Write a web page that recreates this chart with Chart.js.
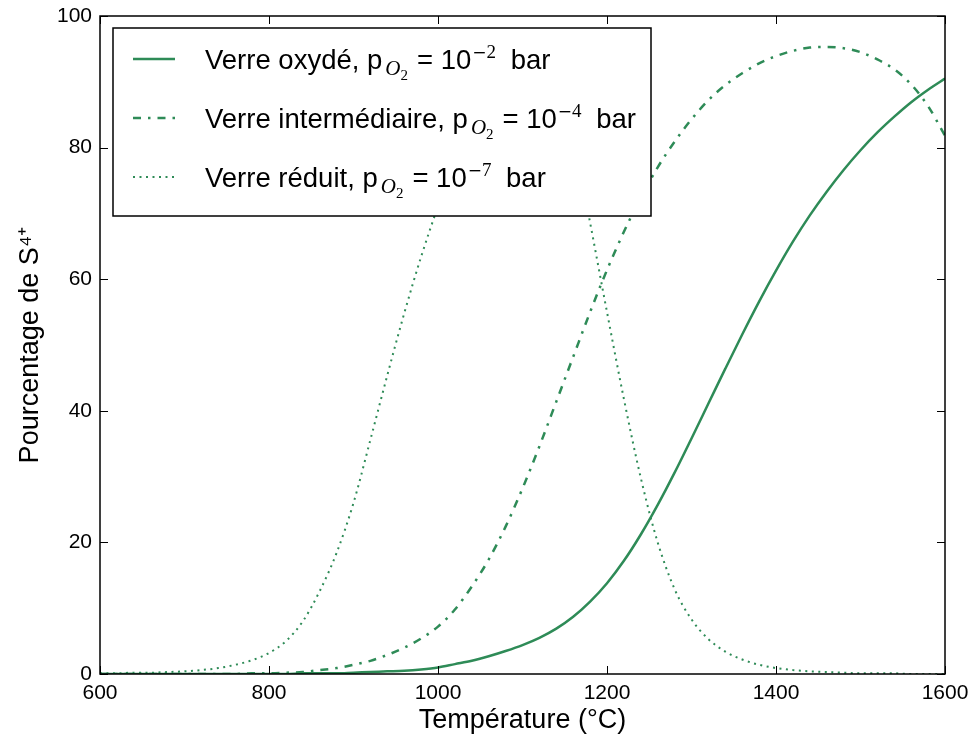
<!DOCTYPE html>
<html lang="fr">
<head>
<meta charset="utf-8">
<title>Pourcentage de S4+ en fonction de la température</title>
<script src="https://cdn.jsdelivr.net/npm/chart.js@4.4.1/dist/chart.umd.min.js"></script>
<style>
  html, body { margin: 0; padding: 0; background: #fff; }
  #wrap { width: 970px; height: 740px; }
</style>
</head>
<body>
<div id="wrap"><canvas id="chart" width="970" height="740"></canvas></div>
<script>
'use strict';

// ─────────────────────────────────────────────
// DATA
// ─────────────────────────────────────────────
const temperatures = [
  600, 620, 640, 660, 680, 700, 720, 740, 760, 780,
  800, 820, 840, 860, 880, 900, 920, 940, 960, 980,
  1000, 1020, 1040, 1060, 1080, 1100, 1120, 1140, 1160, 1180,
  1200, 1220, 1240, 1260, 1280, 1300, 1320, 1340, 1360, 1380,
  1400, 1420, 1440, 1460, 1480, 1500, 1520, 1540, 1560, 1580, 1600
];

// Verre oxydé, pO2 = 1e-2 bar
const oxyde = [
  0.0, 0.0, 0.0, 0.0, 0.0, 0.0, 0.0, 0.0, 0.0, 0.0,
  0.0, 0.0, 0.1, 0.1, 0.1, 0.2, 0.3, 0.4, 0.5, 0.7,
  1.0, 1.5, 2.0, 2.7, 3.5, 4.4, 5.5, 6.9, 8.7, 11.0,
  13.8, 17.2, 21.2, 25.7, 30.6, 35.8, 41.1, 46.4, 51.6, 56.6,
  61.3, 65.7, 69.7, 73.3, 76.6, 79.6, 82.3, 84.7, 86.9, 88.8, 90.5
];

// Verre intermédiaire, pO2 = 1e-4 bar
const intermediaire = [
  0.0, 0.0, 0.0, 0.0, 0.0, 0.0, 0.0, 0.0, 0.0, 0.1,
  0.1, 0.2, 0.3, 0.6, 0.9, 1.4, 2.0, 2.9, 4.0, 5.4,
  7.2, 9.8, 13.3, 17.4, 22.4, 28.2, 34.6, 41.4, 48.2, 55.0,
  61.4, 67.2, 72.4, 77.0, 80.9, 84.3, 87.2, 89.5, 91.3, 92.8,
  93.9, 94.7, 95.2, 95.3, 95.1, 94.5, 93.4, 91.9, 89.6, 86.3, 81.8
];

// Verre réduit, pO2 = 1e-7 bar
const reduit = [
  0.1, 0.1, 0.2, 0.2, 0.3, 0.4, 0.6, 0.9, 1.4, 2.1,
  3.2, 5.0, 8.0, 12.6, 18.4, 26.0, 35.6, 45.4, 54.8, 63.4,
  71.1, 78.4, 84.8, 90.2, 94.2, 96.3, 95.8, 91.5, 82.0, 68.6,
  55.0, 41.8, 29.8, 20.0, 12.9, 8.3, 5.3, 3.4, 2.2, 1.4,
  0.9, 0.6, 0.4, 0.3, 0.2, 0.1, 0.1, 0.1, 0.0, 0.0, 0.0
];

const seriesNames = ['Verre oxydé', 'Verre intermédiaire', 'Verre réduit'];
const pO2Exponents = ['2', '4', '7']; // drawn as 10^(−n)
const xTickValues = [600, 800, 1000, 1200, 1400, 1600];
const yTickValues = [0, 20, 40, 60, 80, 100];

const GREEN = '#2e8b57';
const SANS = '"Liberation Sans", Arial, Helvetica, sans-serif';
const SERIF = '"Liberation Serif", "Times New Roman", serif';

Chart.defaults.font.family = SANS;
Chart.defaults.color = '#000';

const toPoints = (ys) => temperatures.map((t, i) => ({ x: t, y: ys[i] }));

// ─────────────────────────────────────────────
// PLUGIN: frame with inward ticks on all four sides
// ─────────────────────────────────────────────
const framePlugin = {
  id: 'frame',
  afterDatasetsDraw(chart) {
    const { ctx, chartArea: a, scales: { x, y } } = chart;
    const len = 8;
    ctx.save();
    ctx.strokeStyle = '#000';
    ctx.lineWidth = 1;
    ctx.beginPath();
    xTickValues.forEach((v) => {
      const px = Math.round(x.getPixelForValue(v)) + 0.5;
      ctx.moveTo(px, a.bottom); ctx.lineTo(px, a.bottom - len);
      ctx.moveTo(px, a.top); ctx.lineTo(px, a.top + len);
    });
    yTickValues.forEach((v) => {
      const py = Math.round(y.getPixelForValue(v)) + 0.5;
      ctx.moveTo(a.left, py); ctx.lineTo(a.left + len, py);
      ctx.moveTo(a.right, py); ctx.lineTo(a.right - len, py);
    });
    ctx.stroke();
    ctx.lineWidth = 1.5;
    ctx.strokeRect(a.left, a.top, a.right - a.left, a.bottom - a.top);
    ctx.restore();
  }
};

// ─────────────────────────────────────────────
// PLUGIN: boxed legend with pO2 sub/superscripts
// ─────────────────────────────────────────────
function drawLabel(ctx, x, base, name, exp) {
  const put = (txt, font, dy) => {
    ctx.font = font;
    ctx.fillText(txt, x, base + dy);
    x += ctx.measureText(txt).width;
  };
  put(name + ', p', '27.5px ' + SANS, 0);
  x += 3;
  put('O', 'italic 21px ' + SERIF, 6);
  put('2', '15px ' + SERIF, 11);
  x += 9;
  put('=', '27.5px ' + SANS, 0);
  put(' 10', '27.5px ' + SANS, 0);
  x += 1;
  put('−', '17px "DejaVu Sans", sans-serif', -11);
  put(exp, '19px ' + SERIF, -11);
  x += 7;
  put(' bar', '27.5px ' + SANS, 0);
}

const legendPlugin = {
  id: 'boxLegend',
  afterDatasetsDraw(chart) {
    const ctx = chart.ctx;
    const box = { left: 113, top: 28, width: 538, height: 188 };
    ctx.save();
    ctx.fillStyle = '#fff';
    ctx.fillRect(box.left, box.top, box.width, box.height);
    ctx.strokeStyle = '#000';
    ctx.lineWidth = 1.5;
    ctx.strokeRect(box.left, box.top, box.width, box.height);

    chart.data.datasets.forEach((ds, i) => {
      const cy = 59 + i * 59;
      ctx.beginPath();
      ctx.setLineDash(ds.borderDash || []);
      ctx.lineWidth = ds.borderWidth;
      ctx.strokeStyle = ds.borderColor;
      ctx.moveTo(133, cy);
      ctx.lineTo(175, cy);
      ctx.stroke();

      ctx.setLineDash([]);
      ctx.fillStyle = '#000';
      ctx.textAlign = 'left';
      ctx.textBaseline = 'alphabetic';
      drawLabel(ctx, 205, cy + 10, seriesNames[i], pO2Exponents[i]);
    });
    ctx.restore();
  }
};

// ─────────────────────────────────────────────
// CHART
// ─────────────────────────────────────────────
new Chart(document.getElementById('chart'), {
  type: 'line',
  data: {
    datasets: [
      {
        label: seriesNames[0],
        data: toPoints(oxyde),
        borderColor: GREEN,
        borderWidth: 2.5,
      },
      {
        label: seriesNames[1],
        data: toPoints(intermediaire),
        borderColor: GREEN,
        borderWidth: 2.5,
        borderDash: [8, 7, 2.5, 7],
      },
      {
        label: seriesNames[2],
        data: toPoints(reduit),
        borderColor: GREEN,
        borderWidth: 2,
        borderDash: [2, 4.5],
      },
    ],
  },
  options: {
    responsive: false,
    animation: false,
    devicePixelRatio: 1,
    layout: { padding: { top: 16, right: 25, bottom: 0, left: 0 } },
    elements: {
      point: { radius: 0, hoverRadius: 0 },
      line: { cubicInterpolationMode: 'monotone', fill: false },
    },
    plugins: {
      legend: { display: false },
      tooltip: { enabled: false },
    },
    scales: {
      x: {
        type: 'linear',
        min: 600,
        max: 1600,
        grid: { display: false, drawTicks: false },
        border: { display: false },
        afterBuildTicks: (s) => { s.ticks = xTickValues.map((v) => ({ value: v })); },
        afterFit: (s) => {
          s.height = 66;
          s.paddingLeft = 0;
          s.paddingRight = 0;
        },
        ticks: {
          autoSkip: false,
          maxRotation: 0,
          padding: 7,
          font: { size: 21 },
          color: '#000',
          callback: (v) => String(v),
        },
        title: {
          display: true,
          text: 'Température (°C)',
          font: { size: 27 },
          color: '#000',
          padding: { top: 0, bottom: 3 },
        },
      },
      y: {
        min: 0,
        max: 100,
        grid: { display: false, drawTicks: false },
        border: { display: false },
        afterBuildTicks: (s) => { s.ticks = yTickValues.map((v) => ({ value: v })); },
        afterFit: (s) => {
          s.width = 100;
          s.paddingTop = 0;
          s.paddingBottom = 0;
        },
        ticks: {
          padding: 8,
          font: { size: 21 },
          color: '#000',
          callback: (v) => String(v),
        },
        title: {
          display: true,
          text: 'Pourcentage de S⁴⁺',
          font: { size: 27 },
          color: '#000',
          padding: { top: 14, bottom: 0 },
        },
      },
    },
  },
  plugins: [framePlugin, legendPlugin],
});
</script>
</body>
</html>
